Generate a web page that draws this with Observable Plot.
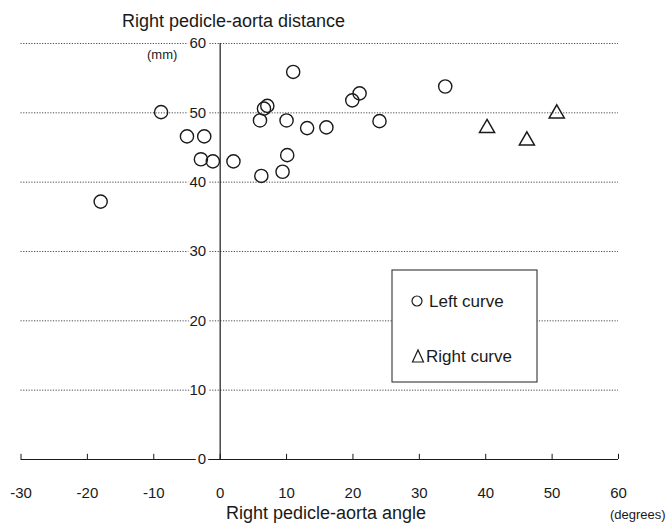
<!DOCTYPE html>
<html><head><meta charset="utf-8">
<script src="https://cdn.jsdelivr.net/npm/d3@7"></script>
<script src="https://cdn.jsdelivr.net/npm/@observablehq/plot@0.6"></script>
<style>body{margin:0;background:#fff;} #chart{width:670px;height:524px;}</style>
</head><body><div id="chart"></div>
<script>
// Left curve (circles)
const leftAngle    = [-18.0, -8.9, -5.0, -2.4, -2.9, -1.1, 2.0, 6.2, 9.4, 10.1, 6.0, 6.6, 7.1, 10.0, 13.1, 11.0, 16.0, 19.9, 21.0, 24.0, 33.9];
const leftDistance = [37.2, 50.1, 46.6, 46.6, 43.3, 43.0, 43.0, 40.9, 41.5, 43.9, 48.9, 50.6, 51.0, 48.9, 47.8, 55.9, 47.9, 51.8, 52.8, 48.8, 53.8];
// Right curve (triangles)
const rightAngle    = [40.2, 46.2, 50.7];
const rightDistance = [47.8, 46.0, 49.9];
// Axes
const xTicks = [-30, -20, -10, 0, 10, 20, 30, 40, 50, 60];
const yTicks = [0, 10, 20, 30, 40, 50, 60];
const gridValues = [10, 20, 30, 40, 50, 60];
const legendLabels = ["Left curve", "Right curve"];
const titleText = "Right pedicle-aorta distance";
const yUnit = "(mm)";
const xTitle = "Right pedicle-aorta angle";
const xUnit = "(degrees)";

const left = leftAngle.map((a, i) => ({angle: a, distance: leftDistance[i]}));
const right = rightAngle.map((a, i) => ({angle: a, distance: rightDistance[i]}));
const font = "'Liberation Sans', Arial, Helvetica, sans-serif";
const ink = "#1a1a1a";

const plot = Plot.plot({
  width: 670, height: 524,
  marginLeft: 20.5, marginRight: 52, marginTop: 43, marginBottom: 65,
  x: {domain: [-30, 60], axis: null},
  y: {domain: [0, 60], axis: null},
  style: {fontFamily: font, background: "white", color: ink},
  marks: [
    Plot.ruleY(gridValues, {y: d => d, stroke: "#333", strokeDasharray: "1.2,1.5", strokeWidth: 0.9}),
    Plot.ruleY([0], {y: d => d, stroke: ink, strokeWidth: 1.2}),
    Plot.ruleX([0], {x: d => d, y1: 0, y2: 60, stroke: ink, strokeWidth: 1.2}),
    Plot.ruleX(xTicks, {x: d => d, y1: 0, y2: 0.75, stroke: ink, strokeWidth: 1}),
    Plot.text(yTicks, {x: () => 0, y: d => d, text: d => String(d), textAnchor: "end", dx: -14, fontSize: 15, fill: ink, stroke: "white", strokeWidth: 5, paintOrder: "stroke"}),
    Plot.text(xTicks, {x: d => d, y: () => 0, text: d => String(d), dy: 33.5, fontSize: 15, fill: ink}),
    Plot.dot(left, {x: "angle", y: "distance", r: 6.6, stroke: ink, strokeWidth: 1.4, fill: "none"}),
    Plot.dot(right, {x: "angle", y: "distance", symbol: "triangle", r: 5.6, stroke: ink, strokeWidth: 1.5, fill: "none"})
  ]
});
document.getElementById("chart").appendChild(plot);

const svg = d3.select(plot);
function label(x, y, size, txt, anchor) {
  return svg.append("text").attr("x", x).attr("y", y).attr("font-size", size)
    .attr("text-anchor", anchor || "start").attr("fill", ink).attr("font-family", font).text(txt);
}
// Titles
label(122, 27, 18, titleText);
label(147, 59, 13, yUnit);
label(326, 519, 18, xTitle, "middle");
label(610, 519, 13, xUnit);

// Legend box
const lg = svg.append("g");
lg.append("rect").attr("x", 392).attr("y", 270).attr("width", 145).attr("height", 112)
  .attr("fill", "white").attr("stroke", "#333").attr("stroke-width", 1.1);
lg.append("circle").attr("cx", 417).attr("cy", 301).attr("r", 5).attr("fill", "none").attr("stroke", ink).attr("stroke-width", 1.2);
lg.append("path").attr("d", "M412.5,362 L423.5,362 L418,350 Z").attr("fill", "none").attr("stroke", ink).attr("stroke-width", 1.2);
label(429, 307, 17, legendLabels[0]);
label(426, 362, 17, legendLabels[1]);
</script>
</body></html>
